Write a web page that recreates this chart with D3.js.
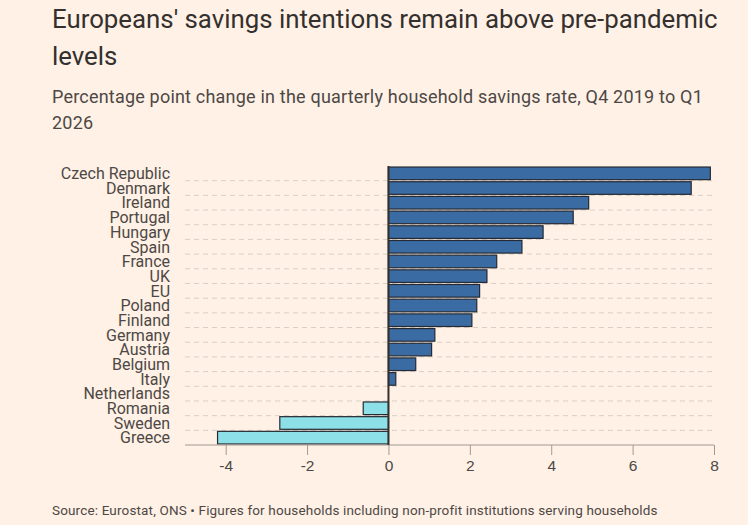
<!DOCTYPE html>
<html>
<head>
<meta charset="utf-8">
<script src="https://cdn.jsdelivr.net/npm/d3@7"></script>
<style>
  html, body { margin: 0; padding: 0; background: #fff1e5; }
  svg { display: block; font-family: Roboto, "Noto Sans", sans-serif; }
  .title { font-size: 25.8px; fill: #33302e; }
  .subtitle { font-size: 18px; letter-spacing: 0.2px; fill: #4d4845; }
  .label { font-size: 16px; fill: #4d4845; }
  .tick text { font-size: 15.5px; fill: #4d4845; }
  .source { font-size: 13.5px; letter-spacing: 0.15px; fill: #4d4845; }
</style>
</head>
<body>
<svg id="chart" width="748" height="525"></svg>
<script>
// countries, top to bottom
const countries = ["Czech Republic", "Denmark", "Ireland", "Portugal", "Hungary", "Spain", "France", "UK", "EU",
  "Poland", "Finland", "Germany", "Austria", "Belgium", "Italy", "Netherlands", "Romania", "Sweden", "Greece"];
// percentage point change, Q4 2019 to Q1 2026
const changes = [7.91, 7.44, 4.92, 4.54, 3.80, 3.28, 2.66, 2.42, 2.24,
  2.17, 2.05, 1.14, 1.06, 0.67, 0.18, 0.0, -0.62, -2.67, -4.20];
const xTicks = [-4, -2, 0, 2, 4, 6, 8];

const svg = d3.select("#chart");
const W = 748, H = 525;
svg.append("rect").attr("width", W).attr("height", H).attr("fill", "#fff1e5");

const title = svg.append("text").attr("class", "title").attr("x", 52);
title.append("tspan").attr("x", 52).attr("y", 28).text("Europeans' savings intentions remain above pre-pandemic");
title.append("tspan").attr("x", 52).attr("y", 65).text("levels");
const sub = svg.append("text").attr("class", "subtitle");
sub.append("tspan").attr("x", 52).attr("y", 103).text("Percentage point change in the quarterly household savings rate, Q4 2019 to Q1");
sub.append("tspan").attr("x", 52).attr("y", 129).text("2026");

const x = d3.scaleLinear().domain([-5, 8]).range([185, 714]);
const y = d3.scaleBand().domain(countries).range([166, 445]).paddingInner(0.14).paddingOuter(0.07);
const bw = y.bandwidth(), gap = y.step() - bw;

// dashed gridlines between rows
svg.append("g").selectAll("line").data(countries.slice(0, -1)).join("line")
  .attr("x1", x.range()[0]).attr("x2", x.range()[1])
  .attr("y1", d => y(d) + bw + gap / 2).attr("y2", d => y(d) + bw + gap / 2)
  .attr("stroke", "#d9cfc6").attr("stroke-width", 1).attr("stroke-dasharray", "5,4");

// labels
svg.append("g").selectAll("text").data(countries).join("text")
  .attr("class", "label").attr("x", 170).attr("y", d => y(d) + bw / 2).attr("dy", "0.36em")
  .attr("text-anchor", "end").text(d => d);

// bars
const rows = countries.map((c, i) => ({ c, v: changes[i] }));
svg.append("g").selectAll("rect").data(rows.filter(d => d.v !== 0)).join("rect")
  .attr("x", d => x(Math.min(0, d.v))).attr("width", d => Math.abs(x(d.v) - x(0)))
  .attr("y", d => y(d.c)).attr("height", bw)
  .attr("fill", d => d.v >= 0 ? "#3a6ba3" : "#8ee0e8")
  .attr("stroke", "#262a33").attr("stroke-width", 1.2);

// x axis
const ax = svg.append("g").attr("transform", "translate(0,445)")
  .call(d3.axisBottom(x).tickValues(xTicks).tickSize(10).tickPadding(5).tickFormat(d3.format("d")));
ax.select(".domain").attr("stroke", "#a39a92").attr("stroke-width", 1.2).attr("d", `M${x.range()[0]},0H${x.range()[1]}`);
ax.selectAll(".tick line").attr("stroke", "#a39a92");
ax.selectAll(".tick text").text(d => d < 0 ? "-" + Math.abs(d) : d);

// zero line
svg.append("line").attr("x1", x(0)).attr("x2", x(0)).attr("y1", 166).attr("y2", 445)
  .attr("stroke", "#33302e").attr("stroke-width", 2);

svg.append("text").attr("class", "source").attr("x", 52).attr("y", 515)
  .text("Source: Eurostat, ONS \u2022 Figures for households including non-profit institutions serving households");
</script>
</body>
</html>
